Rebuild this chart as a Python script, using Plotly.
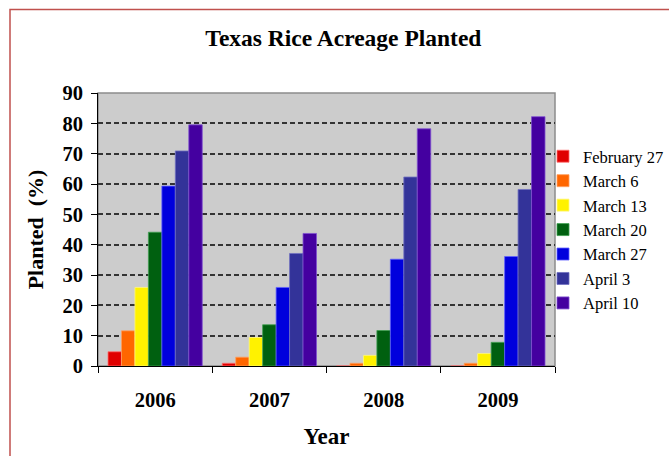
import plotly.graph_objects as go

years = ["2006", "2007", "2008", "2009"]
series_names = ["February 27", "March 6", "March 13", "March 20", "March 27", "April 3", "April 10"]
feb27 = [4.7, 0.9, 0, 0]
mar6 = [11.6, 2.9, 0.9, 0.9]
mar13 = [25.9, 9.4, 3.5, 4.1]
mar20 = [44.1, 13.6, 11.7, 7.8]
mar27 = [59.3, 25.9, 35.2, 36.1]
apr3 = [70.9, 37.1, 62.3, 58.2]
apr10 = [79.5, 43.7, 78.2, 82.2]
y_ticks = [0, 10, 20, 30, 40, 50, 60, 70, 80, 90]

series_values = [feb27, mar6, mar13, mar20, mar27, apr3, apr10]
colors = ["#e00000", "#ff6600", "#fff200", "#006010", "#0000dd", "#333399", "#4400a0"]
edge = ["#ff7070", "#ffa060", "#fff880", "#40a050", "#6060ff", "#7070c0", "#8050d0"]

SERIF = "Liberation Serif, Times New Roman, serif"

fig = go.Figure()
for i, (name, vals) in enumerate(zip(series_names, series_values)):
    fig.add_trace(go.Bar(
        x=years, y=vals, name=name, legendgroup=name,
        marker=dict(color=colors[i], line=dict(color=edge[i], width=0.8)),
    ))

fig.update_layout(
    width=669, height=456,
    margin=dict(l=98, r=114, t=93, b=90, autoexpand=False),
    paper_bgcolor="white",
    plot_bgcolor="#cccccc",
    barmode="group",
    bargap=0.175,
    bargroupgap=0,
    title=dict(text="<b>Texas Rice Acreage Planted</b>", x=0.537, xref="paper", xanchor="center",
               y=1 - 38 / 456, yanchor="middle",
               font=dict(family=SERIF, size=23.5, color="black")),
    font=dict(family=SERIF, color="black"),
    legend=dict(xref="container", yref="container",
                x=543 / 669, xanchor="left", y=1 - 139 / 456, yanchor="top",
                font=dict(family=SERIF, size=16.5, color="black"),
                tracegroupgap=0, bgcolor="rgba(0,0,0,0)"),
    showlegend=True,
)

fig.update_xaxes(
    type="category",
    tickson="boundaries", ticks="outside", ticklen=6, tickcolor="black", tickwidth=1,
    showline=True, linecolor="black", linewidth=1,
    showgrid=False,
    tickfont=dict(family=SERIF, size=20.5, color="black", weight="bold"),
    ticklabelstandoff=15,
    title=dict(text="<b>Year</b>", font=dict(family=SERIF, size=23, color="black"), standoff=18),
)
fig.update_yaxes(
    range=[0, 90], tickvals=y_ticks,
    ticks="outside", ticklen=6, tickcolor="black", tickwidth=1,
    showline=True, linecolor="black", linewidth=1,
    showgrid=True, gridcolor="#333333", gridwidth=1.5, griddash="5px,3px",
    zeroline=False,
    tickfont=dict(family=SERIF, size=20.5, color="black", weight="bold"),
    ticklabelstandoff=4,
    title=dict(text="<b>Planted  (%)</b>", font=dict(family=SERIF, size=22, color="black"), standoff=12),
)

# grey plot-area border
fig.add_shape(type="rect", xref="paper", yref="paper", x0=0, x1=1, y0=0, y1=1,
              line=dict(color="#8c8c8c", width=1.5), layer="below")
# outer chart border (extends past the window on right/bottom)
fig.add_shape(type="rect", xref="paper", yref="paper",
              x0=(10 - 98) / 457, x1=1.4, y0=-0.5, y1=(366 - 9) / 273.3,
              line=dict(color="#c0504d", width=1.5), fillcolor="rgba(0,0,0,0)")

fig.write_html("out.html")
